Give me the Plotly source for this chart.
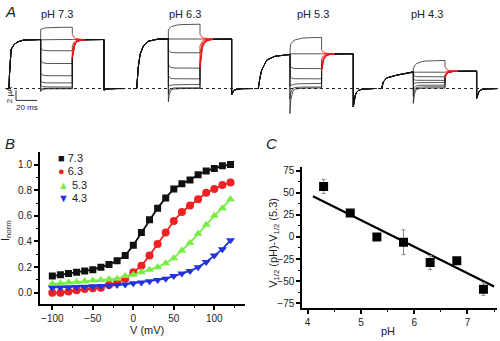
import plotly.graph_objects as go

W, H = 500, 341
FONT = "Liberation Sans, Arial, sans-serif"

# ---------------- Panel A : current traces (ms, uA) ----------------
PH_NAMES = ["pH 7.3", "pH 6.3", "pH 5.3", "pH 4.3"]
T_ON, T_TEST, T_OFF, T_END = 0, 30, 60, 90   # protocol times (ms)
T_PRE = -3
RISE_T = [[0, 0.5, 1, 2, 5, 8, 14, 30],
          [0, 1.5, 3.2, 6.3, 11, 20.5, 30],
          [0, 1.5, 3.2, 8, 15.8, 30],
          [0, 1.5, 4.7, 14.2, 30]]
RISE_F = [[0, 0.3, 0.6, 0.8, 0.9, 0.95, 0.99, 1.0],
          [0, 0.43, 0.69, 0.86, 0.955, 1.0, 1.0],
          [0, 0.3, 0.53, 0.82, 0.93, 0.98],
          [0, 0.38, 0.61, 0.77, 0.96]]
PLATEAU = [9.6, 9.7, 6.8, 3.4]
TEST_LEVEL = [[12.0, 9.6, 7.4, 4.9, 2.5, 1.1, 0.3, 0.05, -0.05],
              [12.6, 9.7, 7.0, 4.0, 1.9, 0.8, 0.15, 0.0],
              [10.0, 6.8, 3.9, 1.9, 1.0, 0.3, 0.1],
              [5.5, 3.2, 2.3, 1.6, 1.2, 0.66, 0.33, 0.1]]
TEST_ONSET = [[11.6, 9.6, 8.0, 5.6, 3.1, 1.6, 0.6, -0.3, -0.6],
              [11.5, 9.7, 7.6, 4.8, 2.6, 0.5, -1.0, -2.6],
              [8.3, 6.8, 4.6, 2.4, 0.5, -2.0, -4.9],
              [4.0, 3.2, 2.6, 1.8, 1.0, -0.5, -1.5, -2.9]]
TAIL_START = [[10.6, 9.6, 8.4, 7.3, 6.6, 6.2, 6.0, 5.9, 5.9],
              [10.6, 9.7, 8.3, 6.8, 5.4, 4.6, 4.1, 3.9],
              [7.6, 6.8, 5.8, 4.8, 4.0, 3.6, 3.4],
              [4.2, 3.2, 2.8, 2.5, 2.3, 2.2, 2.1, 2.1]]
END_DIP = [-0.3, -1.2, -3.6, -1.9]
RELAX_T = [0, 0.5, 1, 2, 3, 5, 8, 12, 20, 30]
FAST_F = [1, 0.62, 0.42, 0.2, 0.1, 0.04, 0.015, 0.005, 0, 0]
SLOW_F = [1, 0.85, 0.72, 0.55, 0.42, 0.27, 0.15, 0.07, 0.02, 0]
TAIL_F = [1, 0.75, 0.57, 0.35, 0.22, 0.1, 0.04, 0.015, 0, 0]
SCALE_MS, SCALE_UA = 20, 2

# ---------------- Panel B : normalized I-V ----------------
V_MV = [-100, -90, -80, -70, -60, -50, -40, -30, -20, -10, 0, 10, 20,
        30, 40, 50, 60, 70, 80, 90, 100, 110, 120]
I_73 = [0.13, 0.14, 0.15, 0.16, 0.17, 0.18, 0.20, 0.22, 0.25, 0.29, 0.37, 0.47,
        0.57, 0.66, 0.74, 0.81, 0.85, 0.88, 0.92, 0.95, 0.97, 0.99, 1.00]
I_63 = [0.0, 0.0, 0.01, 0.02, 0.03, 0.035, 0.04, 0.06, 0.08, 0.11, 0.16, 0.21,
        0.29, 0.38, 0.47, 0.56, 0.63, 0.68, 0.73, 0.78, 0.81, 0.84, 0.86]
I_53 = [0.07, 0.075, 0.08, 0.085, 0.09, 0.095, 0.10, 0.105, 0.11, 0.13, 0.14, 0.16,
        0.18, 0.20, 0.23, 0.27, 0.33, 0.39, 0.46, 0.53, 0.60, 0.66, 0.73]
I_43 = [0.04, 0.042, 0.044, 0.046, 0.048, 0.05, 0.052, 0.055, 0.06, 0.065, 0.075, 0.08,
        0.09, 0.10, 0.11, 0.13, 0.15, 0.17, 0.20, 0.24, 0.29, 0.34, 0.41]
SERIES_B = ["7.3", "6.3", "5.3", "4.3"]
COLORS_B = ["#111111", "#ee2222", "#77ee44", "#2233dd"]
SYMBOLS_B = ["square", "circle", "triangle-up", "triangle-down"]
GLYPHS_B = ["\u25A0", "\u25CF", "\u25B2", "\u25BC"]

# ---------------- Panel C : V1/2 shift vs pH ----------------
PH = [4.3, 4.8, 5.3, 5.8, 6.3, 6.8, 7.3]
DV = [57, 27, 0, -6, -29, -27, -59]
DV_ERR = [8, 3, 2, 14, 8, 3, 7]
FIT_PH = [4.1, 7.5]
FIT_DV = [46, -56]

fig = go.Figure()

# ---- Panel A traces ----
PX_PER_MS = 1.055
PX_PER_UA = 5.15
OFFSETS_PX = [9, 136.7, 258.3, 381.7]
for p in range(4):
    off = OFFSETS_PX[p] / PX_PER_MS
    bx, by, rx, ry = [], [], [], []
    P = PLATEAU[p]
    for lev, on, tail in zip(TEST_LEVEL[p], TEST_ONSET[p], TAIL_START[p]):
        xs = [T_PRE, T_ON]
        ys = [0, 0]
        for t, f in zip(RISE_T[p], RISE_F[p]):
            xs.append(T_ON + t); ys.append(P * f)
        shape = SLOW_F if (0 <= on < lev) else FAST_F
        for t, f in zip(RELAX_T, shape):
            xs.append(T_TEST + t); ys.append(lev + (on - lev) * f)
        xs.append(T_OFF); ys.append(tail)
        bx += [x + off for x in xs] + [None]
        by += ys + [None]
        # red tail
        txs, tys = [], []
        for t, f in zip(RELAX_T, TAIL_F):
            if t <= 12:
                txs.append(T_OFF + t); tys.append(P + (tail - P) * f)
        rx += [x + off for x in txs] + [None]
        ry += tys + [None]
        # rest of tail + end
        xs = [T_OFF + 12, T_END, T_END]
        ys = [P + (tail - P) * TAIL_F[7], P, END_DIP[p]]
        for t, f in zip(RELAX_T[1:], TAIL_F[1:]):
            if t <= 20:
                xs.append(T_END + t); ys.append(END_DIP[p] * f)
        bx += [x + off for x in xs] + [None]
        by += ys + [None]
    fig.add_trace(go.Scatter(x=bx, y=by, mode="lines", xaxis="x", yaxis="y",
                             line=dict(color="rgba(20,20,20,0.8)", width=0.9),
                             showlegend=False, hoverinfo="skip"))
    fig.add_trace(go.Scatter(x=rx, y=ry, mode="lines", xaxis="x", yaxis="y",
                             line=dict(color="rgba(235,20,20,0.9)", width=1.0),
                             showlegend=False, hoverinfo="skip"))

# ---- Panel B traces ----
for name, ys, c, s in zip(SERIES_B, [I_73, I_63, I_53, I_43], COLORS_B, SYMBOLS_B):
    fig.add_trace(go.Scatter(x=V_MV, y=ys, mode="lines+markers", name=name,
                             xaxis="x2", yaxis="y2",
                             line=dict(color=c, width=1.8),
                             marker=dict(symbol=s, size=8 if s != "square" else 7, color=c),
                             showlegend=False))

# ---- Panel C traces ----
fig.add_trace(go.Scatter(x=FIT_PH, y=FIT_DV, mode="lines", xaxis="x3", yaxis="y3",
                         line=dict(color="black", width=2.2), showlegend=False))
fig.add_trace(go.Scatter(x=PH, y=DV, mode="markers", xaxis="x3", yaxis="y3",
                         marker=dict(symbol="square", size=9, color="black"),
                         error_y=dict(type="data", array=DV_ERR, color="#888888",
                                      thickness=1, width=2),
                         showlegend=False))

def px(x, y):
    return x / W, 1 - y / H

A_Y0, A_Y1 = 87.3, 115  # baseline pixel and bottom of panel A
ax_x_range = [0, W / PX_PER_MS]
ax_y_range = [-(A_Y1 - A_Y0) / PX_PER_UA, A_Y0 / PX_PER_UA]

tick_font = dict(family=FONT, size=10, color="#222222")
common = dict(showline=True, linecolor="black", linewidth=2, ticks="outside",
              ticklen=4, tickwidth=1.5, tickcolor="black", showgrid=False,
              zeroline=False, tickfont=tick_font,
              minor=dict(ticks="outside", ticklen=2, tickwidth=1, tickcolor="black"))

fig.update_layout(
    width=W, height=H, margin=dict(l=0, r=0, t=0, b=0),
    paper_bgcolor="white", plot_bgcolor="white",
    font=dict(family=FONT, color="#222222"),
    xaxis=dict(domain=[0, 1], range=ax_x_range, visible=False, anchor="y"),
    yaxis=dict(domain=[1 - A_Y1 / H, 1], range=ax_y_range, visible=False, anchor="x"),
    xaxis2=dict(domain=[40 / W, 245 / W], range=[-115.2, 137.9], anchor="y2",
                tickvals=[-100, -50, 0, 50, 100], minor_dtick=25, **common),
    yaxis2=dict(domain=[1 - 305 / H, 1 - 151.7 / H], range=[-0.09, 1.095], anchor="x2",
                tickvals=[0, 0.2, 0.4, 0.6, 0.8, 1.0], tickformat=".1f", minor_dtick=0.1,
                **common),
    xaxis3=dict(domain=[302.3 / W, 497.3 / W], range=[3.9, 7.56], anchor="y3",
                tickvals=[4, 5, 6, 7], minor_dtick=0.5, **common),
    yaxis3=dict(domain=[1 - 309 / H, 1 - 166.7 / H], range=[-80.6, 78.7], anchor="x3",
                tickvals=[-75, -50, -25, 0, 25, 50, 75], minor_dtick=12.5, **common),
)

# baseline and scale bar (panel A axis units)
fig.add_shape(type="line", xref="x", yref="y", x0=8 / PX_PER_MS, x1=W / PX_PER_MS,
              y0=0, y1=0, line=dict(color="#222222", width=1, dash="dot"))
sb_x = 16 / PX_PER_MS
sb_y = -(99.3 - A_Y0) / PX_PER_UA
fig.add_shape(type="line", xref="x", yref="y", x0=sb_x, x1=sb_x, y0=sb_y, y1=sb_y + SCALE_UA,
              line=dict(color="#333333", width=1))
fig.add_shape(type="line", xref="x", yref="y", x0=sb_x, x1=sb_x + SCALE_MS, y0=sb_y, y1=sb_y,
              line=dict(color="#333333", width=1))

ann = []
def add_text(text, x, y, size=11, angle=0, xanchor="center", color="#222222"):
    xx, yy = px(x, y)
    ann.append(dict(text=text, x=xx, y=yy, xref="paper", yref="paper", showarrow=False,
                    xanchor=xanchor, yanchor="middle", textangle=angle,
                    font=dict(family=FONT, size=size, color=color)))

add_text("<i>A</i>", 10, 10, size=15)
add_text("<i>B</i>", 10, 143, size=15)
add_text("<i>C</i>", 271, 143, size=15)
for name, xc in zip(PH_NAMES, [57, 185, 313, 427]):
    add_text(name, xc, 12.5, size=11)
add_text(f"{SCALE_UA} \u03bcA", 9, 94, size=8, angle=-90)
add_text(f"{SCALE_MS} ms", 27, 106, size=8)
# panel B titles & legend
add_text("V (mV)", 147, 331, size=11)
add_text("I<sub>norm</sub>", 6, 231, size=11, angle=-90)
for i, (name, c, g) in enumerate(zip(SERIES_B, COLORS_B, GLYPHS_B)):
    add_text(f"<span style='color:{c}'>{g}</span> {name}", 56, 157 + 13.7 * i, size=11,
             xanchor="left")
# panel C titles
add_text("pH", 388, 332, size=11)
add_text("V<sub>1/2</sub> (pH)-V<sub>1/2</sub> (5.3)", 274, 243, size=11, angle=-90)

fig.update_layout(annotations=ann)
fig.write_html("out.html")
